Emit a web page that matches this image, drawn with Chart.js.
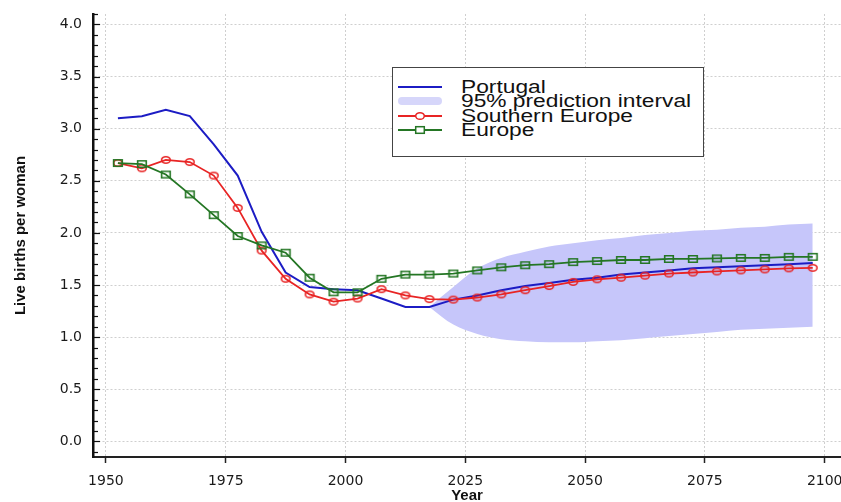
<!DOCTYPE html>
<html>
<head>
<meta charset="utf-8">
<script src="https://cdn.jsdelivr.net/npm/chart.js@4.4.1/dist/chart.umd.min.js"></script>
<style>
  html, body { margin: 0; padding: 0; background: #fff; overflow: hidden; }
  #wrap { position: relative; width: 841px; height: 502px; overflow: hidden; }
  #legend {
    position: absolute; left: 392px; top: 67px; width: 312px; height: 90px;
    border: 1px solid #444; background: #fff; box-sizing: border-box;
    padding-top: 12px;
  }
  .row { height: 14.3px; position: relative; }
  .row svg { position: absolute; left: 4px; top: 0; }
  .row span {
    position: absolute; left: 68px; top: -3px; white-space: nowrap;
    font-family: "Liberation Sans", Arial, sans-serif; font-size: 17.5px; color: #111;
    transform: scaleX(1.3); transform-origin: left center; line-height: 20px;
  }
</style>
</head>
<body>
<div id="wrap">
  <canvas id="chart" width="841" height="512"></canvas>
  <div id="legend"></div>
</div>
<script>
var years = [1952.5, 1957.5, 1962.5, 1967.5, 1972.5, 1977.5, 1982.5, 1987.5, 1992.5, 1997.5,
             2002.5, 2007.5, 2012.5, 2017.5, 2022.5, 2027.5, 2032.5, 2037.5, 2042.5, 2047.5,
             2052.5, 2057.5, 2062.5, 2067.5, 2072.5, 2077.5, 2082.5, 2087.5, 2092.5, 2097.5]

var portugal = [3.10, 3.12, 3.18, 3.12, 2.85, 2.55, 2.01, 1.62, 1.48, 1.46,
                1.45, 1.37, 1.29, 1.29, 1.36, 1.40, 1.45, 1.49, 1.52, 1.55,
                1.57, 1.60, 1.62, 1.64, 1.66, 1.67, 1.68, 1.69, 1.70, 1.71]

var southern_europe = [2.67, 2.62, 2.70, 2.68, 2.55, 2.24, 1.83, 1.56, 1.41, 1.34,
                       1.37, 1.46, 1.40, 1.365, 1.36, 1.38, 1.41, 1.45, 1.49, 1.53,
                       1.555, 1.57, 1.59, 1.61, 1.62, 1.63, 1.64, 1.65, 1.66, 1.665]

var europe = [2.67, 2.66, 2.56, 2.37, 2.17, 1.97, 1.88, 1.81, 1.57, 1.43,
              1.43, 1.56, 1.60, 1.60, 1.61, 1.64, 1.67, 1.69, 1.70, 1.72,
              1.73, 1.74, 1.74, 1.75, 1.75, 1.755, 1.76, 1.76, 1.77, 1.77]

var band_years = [2017.5, 2022.5, 2027.5, 2032.5, 2037.5, 2042.5, 2047.5, 2052.5, 2057.5,
                  2062.5, 2067.5, 2072.5, 2077.5, 2082.5, 2087.5, 2092.5, 2097.5]
var band_upper = [1.29, 1.48, 1.66, 1.76, 1.82, 1.87, 1.90, 1.93, 1.95,
                  1.98, 2.00, 2.02, 2.03, 2.05, 2.06, 2.08, 2.09]
var band_lower = [1.29, 1.12, 1.03, 0.98, 0.96, 0.95, 0.95, 0.96, 0.97,
                  0.99, 1.01, 1.03, 1.05, 1.07, 1.08, 1.09, 1.10]

var series_names = ['Portugal', '95% prediction interval', 'Southern Europe', 'Europe']
var x_ticks = [1950, 1975, 2000, 2025, 2050, 2075, 2100]

var BLUE = 'rgb(28,28,196)', RED = 'rgb(232,36,36)', GREEN = 'rgb(36,118,36)', BAND = 'rgb(198,198,250)'

function points(xs, ys) {
    return xs.map((x, i) => ({x: x, y: ys[i]}))
}

// open markers, a bit wider than tall like in the picture
function markerImage(kind, color) {
    var c = document.createElement('canvas')
    c.width = 12; c.height = 10
    var g = c.getContext('2d')
    g.strokeStyle = color
    g.lineWidth = 1.6
    g.beginPath()
    if (kind == 'circle') g.ellipse(6, 5, 4.3, 3.3, 0, 0, Math.PI * 2)
    else g.rect(1.7, 1.7, 8.6, 6.6)
    g.stroke()
    return c
}

var minorTicks = {
    id: 'minorTicks',
    afterDraw(chart) {
        var y = chart.scales.y, ctx = chart.ctx, left = chart.chartArea.left
        ctx.save()
        ctx.strokeStyle = '#111'
        ctx.lineWidth = 1.2
        for (var i = -1; i <= 41; i++) {
            var py = Math.round(y.getPixelForValue(i / 10)) + 0.5
            var len = i % 5 === 0 ? 7 : 5
            ctx.beginPath()
            ctx.moveTo(left, py)
            ctx.lineTo(left + len, py)
            ctx.stroke()
        }
        ctx.restore()
    }
}

var chart = new Chart(document.getElementById('chart').getContext('2d'), {
    type: 'line',
    data: {
        datasets: [
            { label: 'lower', data: points(band_years, band_lower), borderWidth: 0, pointRadius: 0,
              fill: false, order: 10, cubicInterpolationMode: 'monotone' },
            { label: series_names[1], data: points(band_years, band_upper), borderWidth: 0, pointRadius: 0,
              fill: '-1', backgroundColor: BAND, order: 10, cubicInterpolationMode: 'monotone' },
            { label: series_names[0], data: points(years, portugal), borderColor: BLUE, borderWidth: 2,
              pointRadius: 0, order: 3 },
            { label: series_names[2], data: points(years, southern_europe), borderColor: RED, borderWidth: 1.8,
              pointStyle: markerImage('circle', RED), pointRadius: 5, order: 2 },
            { label: series_names[3], data: points(years, europe), borderColor: GREEN, borderWidth: 1.8,
              pointStyle: markerImage('rect', GREEN), pointRadius: 5, order: 1 }
        ]
    },
    options: {
        responsive: false,
        animation: false,
        events: [],
        layout: { autoPadding: false, padding: { top: 14, left: 0, right: 0, bottom: 0 } },
        plugins: { legend: { display: false }, tooltip: { enabled: false } },
        scales: {
            x: {
                type: 'linear', min: 1947.3, max: 2103.4,
                afterBuildTicks: (scale) => { scale.ticks = x_ticks.map(v => ({value: v})) },
                afterFit: (scale) => { scale.height = 55; scale.paddingLeft = 0; scale.paddingRight = 0 },
                ticks: { callback: v => String(v), color: '#1a1a1a', padding: 10, maxRotation: 0, autoSkip: false,
                         font: { family: 'DejaVu Sans', size: 14 } },
                grid: { color: '#cfcfcf', lineWidth: 1, tickLength: 6, tickColor: '#222', tickWidth: 1.5 },
                border: { color: '#222', width: 2, dash: [2, 2] },
                title: { display: true, text: 'Year', color: '#111', padding: { top: 0, bottom: 7 },
                         font: { family: 'Liberation Sans', size: 15, weight: 'bold' } }
            },
            y: {
                min: -0.15, max: 4.1,
                afterFit: (scale) => { scale.width = 93; scale.paddingTop = 0; scale.paddingBottom = 0 },
                ticks: { stepSize: 0.5, includeBounds: false, callback: v => v.toFixed(1), color: '#1a1a1a',
                         padding: 11, font: { family: 'DejaVu Sans', size: 14 } },
                grid: { color: '#cfcfcf', lineWidth: 1, drawTicks: false },
                border: { color: '#111', width: 2.5, dash: [2, 2] },
                title: { display: true, text: 'Live births per woman', color: '#111', padding: { top: 12, bottom: 0 },
                         font: { family: 'Liberation Sans', size: 15, weight: 'bold' } }
            }
        }
    },
    plugins: [minorTicks]
})

// html legend, symbols drawn as small svgs
function legendSymbol(i) {
    var s = '<svg width="46" height="14" viewBox="0 0 46 14">'
    if (i == 0) s += '<line x1="1" y1="7" x2="45" y2="7" stroke="' + BLUE + '" stroke-width="2"/>'
    if (i == 1) s += '<line x1="5" y1="7" x2="41" y2="7" stroke="rgb(214,214,250)" stroke-width="8" stroke-linecap="round"/>'
    if (i == 2) s += '<line x1="1" y1="7" x2="45" y2="7" stroke="' + RED + '" stroke-width="1.8"/>' +
                     '<ellipse cx="23" cy="7" rx="4.3" ry="3.3" fill="#fff" stroke="' + RED + '" stroke-width="1.5"/>'
    if (i == 3) s += '<line x1="1" y1="7" x2="45" y2="7" stroke="' + GREEN + '" stroke-width="1.8"/>' +
                     '<rect x="18.7" y="3.7" width="8.6" height="6.6" fill="#fff" stroke="' + GREEN + '" stroke-width="1.5"/>'
    return s + '</svg>'
}

document.getElementById('legend').innerHTML = series_names.map((name, i) =>
    '<div class="row">' + legendSymbol(i) + '<span>' + name + '</span></div>').join('')
</script>
</body>
</html>
